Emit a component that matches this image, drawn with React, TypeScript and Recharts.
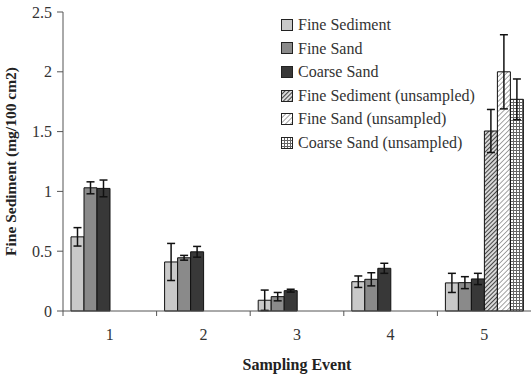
import { BarChart, Bar, XAxis, YAxis, ErrorBar } from 'recharts'

const events = ['1', '2', '3', '4', '5']
const fineSediment = [0.62, 0.41, 0.09, 0.245, 0.235]
const fineSedimentErr = [0.077, 0.155, 0.085, 0.048, 0.08]
const fineSand = [1.03, 0.445, 0.12, 0.265, 0.237]
const fineSandErr = [0.05, 0.02, 0.035, 0.055, 0.05]
const coarseSand = [1.025, 0.495, 0.17, 0.357, 0.268]
const coarseSandErr = [0.07, 0.045, 0.012, 0.042, 0.047]
const fineSedimentU = [null, null, null, null, 1.505]
const fineSedimentUErr = [0, 0, 0, 0, 0.18]
const fineSandU = [null, null, null, null, 2.0]
const fineSandUErr = [0, 0, 0, 0, 0.31]
const coarseSandU = [null, null, null, null, 1.77]
const coarseSandUErr = [0, 0, 0, 0, 0.17]
const yTicks = [0, 0.5, 1, 1.5, 2, 2.5]

const data = events.map((e, i) => ({
  event: e,
  fs: fineSediment[i], fsErr: fineSedimentErr[i],
  fd: fineSand[i], fdErr: fineSandErr[i],
  cs: coarseSand[i], csErr: coarseSandErr[i],
  fsu: fineSedimentU[i], fsuErr: fineSedimentUErr[i],
  fdu: fineSandU[i], fduErr: fineSandUErr[i],
  csu: coarseSandU[i], csuErr: coarseSandUErr[i],
}))

const series = [
  { key: 'fs', name: 'Fine Sediment', fill: '#c9c9c9' },
  { key: 'fd', name: 'Fine Sand', fill: '#8a8a8a' },
  { key: 'cs', name: 'Coarse Sand', fill: '#383838' },
  { key: 'fsu', name: 'Fine Sediment (unsampled)', fill: 'url(#hatch1)' },
  { key: 'fdu', name: 'Fine Sand (unsampled)', fill: 'url(#hatch2)' },
  { key: 'csu', name: 'Coarse Sand (unsampled)', fill: 'url(#grid3)' },
]

const FONT = '"Liberation Serif", "Times New Roman", serif'

const XTick = ({ x, y, payload }: any) => {
  const half = payload?.offset ?? 46.8
  return (
    <g>
      <line x1={x - half} y1={y} x2={x - half} y2={y + 5} stroke="#555" />
      <text x={x} y={y + 29} textAnchor="middle" fontSize={16} fontFamily={FONT} fill="#333">{payload.value}</text>
    </g>
  )
}

const Patterns = () => (
  <svg width={0} height={0} style={{ position: 'absolute' }}>
    <defs>
      <pattern id="hatch1" width={3} height={3} patternUnits="userSpaceOnUse" patternTransform="rotate(45)">
        <rect width={3} height={3} fill="#d8d8d8" />
        <line x1={0} y1={0} x2={0} y2={3} stroke="#333" strokeWidth={1.8} />
      </pattern>
      <pattern id="hatch2" width={3.5} height={3.5} patternUnits="userSpaceOnUse" patternTransform="rotate(45)">
        <rect width={3.5} height={3.5} fill="#fff" />
        <line x1={0} y1={0} x2={0} y2={3.5} stroke="#666" strokeWidth={1.2} />
      </pattern>
      <pattern id="grid3" width={3} height={3} patternUnits="userSpaceOnUse">
        <rect width={3} height={3} fill="#fff" />
        <line x1={0} y1={0.5} x2={3} y2={0.5} stroke="#666" strokeWidth={1} />
        <line x1={0.5} y1={0} x2={0.5} y2={3} stroke="#666" strokeWidth={1} />
      </pattern>
    </defs>
  </svg>
)

const LegendBox = () => (
  <div style={{ position: 'absolute', left: 281, top: 13, fontFamily: FONT, fontSize: 16, color: '#333', lineHeight: '23.6px' }}>
    {series.map(s => (
      <div key={s.key} style={{ display: 'flex', alignItems: 'center', whiteSpace: 'nowrap' }}>
        <svg width={14} height={12} style={{ marginRight: 3 }}>
          <rect x={0.5} y={0.5} width={11} height={11} fill={s.fill} stroke="#222" />
        </svg>
        {s.name}
      </div>
    ))}
  </div>
)

export default function App() {
  return (
    <div style={{ position: 'absolute', left: 0, top: 0, width: 531, height: 376, background: '#fff' }}>
      <Patterns />
      <BarChart width={531} height={376} data={data} margin={{ top: 12, right: 0, bottom: 0, left: 0 }}
        barGap={0} barCategoryGap={8}>
        <XAxis dataKey="event" height={65} tickSize={0} tickMargin={0} tickLine={false}
          stroke="#555" tick={<XTick />}
          label={{ value: 'Sampling Event', position: 'insideBottom', offset: 6, fontSize: 16, fontWeight: 'bold', fontFamily: FONT, fill: '#222' }} />
        <YAxis domain={[0, 2.5]} ticks={yTicks} width={63} tickSize={6} tickMargin={5} stroke="#555"
          tick={{ fontSize: 16, fontFamily: FONT, fill: '#333' }}
          label={{ value: 'Fine Sediment (mg/100 cm2)', angle: -90, position: 'insideLeft', offset: 10, style: { textAnchor: 'middle' }, fontSize: 15.5, fontWeight: 'bold', fontFamily: FONT, fill: '#222' }} />
        {series.map(s => (
          <Bar key={s.key} dataKey={s.key} name={s.name} fill={s.fill} stroke="#111" strokeWidth={1} isAnimationActive={false}>
            <ErrorBar dataKey={s.key + 'Err'} width={4} stroke="#111" strokeWidth={1.5} />
          </Bar>
        ))}
      </BarChart>
      <LegendBox />
    </div>
  )
}
